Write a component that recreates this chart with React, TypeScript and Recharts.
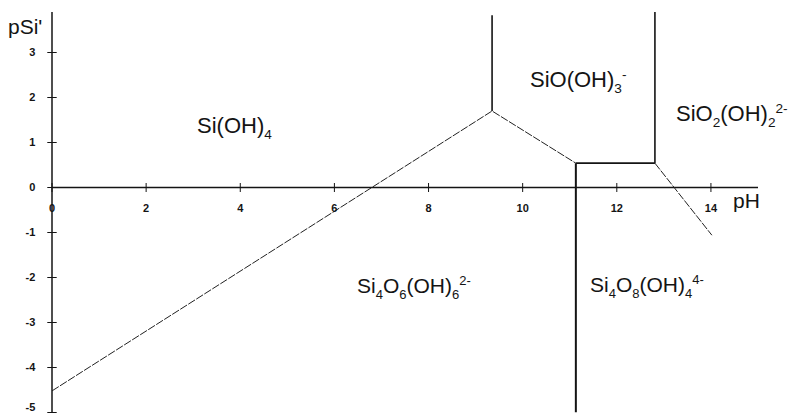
import { LineChart, Line, XAxis, YAxis, ReferenceLine } from "recharts";

const phTicks = [0, 2, 4, 6, 8, 10, 12, 14];
const psiTicks = [-5, -4, -3, -2, -1, 0, 1, 2, 3];

// predominance boundaries, as (pH, pSi') corners
const risingEdge = [
  { pH: 0, pSi: -4.52 },
  { pH: 9.35, pSi: 1.7 },
  { pH: 11.13, pSi: 0.54 },
];
const shelfEdge = [
  { pH: 11.13, pSi: 0.54 },
  { pH: 12.81, pSi: 0.54 },
];
const fallingEdge = [
  { pH: 12.81, pSi: 0.54 },
  { pH: 14.02, pSi: -1.06 },
];
const monoanionWall = [
  { pH: 9.35, pSi: 1.7 },
  { pH: 9.35, pSi: 3.83 },
];
const tetramerWall = [
  { pH: 11.13, pSi: 0.54 },
  { pH: 11.13, pSi: -5 },
];
const dianionWall = [
  { pH: 12.81, pSi: 0.54 },
  { pH: 12.81, pSi: 3.9 },
];

const INK = "#141414";
const tickFont = { fill: INK, fontSize: 11, fontWeight: 700 };

type Part = [string, "n" | "sub" | "sup"];

function Formula({ x, y, size, parts }: { x: number; y: number; size: number; parts: Part[] }) {
  let shift = 0;
  return (
    <text x={x} y={y} fontSize={size} fill={INK}>
      {parts.map(([t, kind], i) => {
        const target = kind === "sub" ? size * 0.28 : kind === "sup" ? -size * 0.36 : 0;
        const dy = target - shift;
        shift = target;
        return (
          <tspan key={i} dy={dy} fontSize={kind === "n" ? size : size * 0.62}>
            {t}
          </tspan>
        );
      })}
    </text>
  );
}

// y tick label, kept clear of the bottom edge
const yTickLabel = (t: number) => (props: any) => {
  const { x, y, height } = props.viewBox;
  return (
    <text
      x={x - 12}
      y={Math.min(y + height / 2, 407)}
      dy="0.35em"
      textAnchor="end"
      {...tickFont}
    >
      {t}
    </text>
  );
};

export default function App() {
  return (
    <div
      style={{
        position: "absolute",
        left: 0,
        top: 0,
        width: 797,
        height: 414,
        background: "#fff",
        fontFamily: "'Liberation Sans', Arial, sans-serif",
      }}
    >
      <LineChart width={797} height={414} margin={{ top: 12, right: 39, bottom: 1.5, left: 52 }}>
        <XAxis type="number" dataKey="pH" domain={[0, 15]} hide allowDataOverflow />
        <YAxis type="number" dataKey="pSi" domain={[-5, 3.9]} hide allowDataOverflow />

        {/* axes crossing at the origin */}
        <ReferenceLine y={0} stroke={INK} strokeWidth={1.5} />
        <ReferenceLine x={0} stroke={INK} strokeWidth={1.5} />

        {phTicks.map((t) => (
          <ReferenceLine
            key={`x${t}`}
            segment={[
              { x: t, y: -0.1 },
              { x: t, y: 0.1 },
            ]}
            stroke={INK}
            strokeWidth={1}
            ifOverflow="visible"
            label={{ value: t, position: "bottom", offset: 12, ...tickFont }}
          />
        ))}
        {psiTicks.map((t) => (
          <ReferenceLine
            key={`y${t}`}
            segment={[
              { x: -0.1, y: t },
              { x: 0.1, y: t },
            ]}
            stroke={INK}
            strokeWidth={1}
            ifOverflow="visible"
            label={yTickLabel(t)}
          />
        ))}

        <Line data={risingEdge} dataKey="pSi" stroke="#222" strokeWidth={1} strokeDasharray="8 1.5" dot={false} isAnimationActive={false} />
        <Line data={fallingEdge} dataKey="pSi" stroke="#222" strokeWidth={1} strokeDasharray="8 1.5" dot={false} isAnimationActive={false} />
        <Line data={shelfEdge} dataKey="pSi" stroke={INK} strokeWidth={1.8} dot={false} isAnimationActive={false} />
        <Line data={monoanionWall} dataKey="pSi" stroke={INK} strokeWidth={1.6} dot={false} isAnimationActive={false} />
        <Line data={tetramerWall} dataKey="pSi" stroke={INK} strokeWidth={2} dot={false} isAnimationActive={false} />
        <Line data={dianionWall} dataKey="pSi" stroke={INK} strokeWidth={1.6} dot={false} isAnimationActive={false} />
      </LineChart>

      {/* axis titles and species names */}
      <svg
        width={797}
        height={414}
        style={{ position: "absolute", left: 0, top: 0, pointerEvents: "none" }}
      >
        <Formula x={8} y={34} size={21} parts={[["pSi'", "n"]]} />
        <Formula x={733} y={208} size={21} parts={[["pH", "n"]]} />
        <Formula x={197} y={133} size={22} parts={[["Si(OH)", "n"], ["4", "sub"]]} />
        <Formula x={530} y={87} size={22} parts={[["SiO(OH)", "n"], ["3", "sub"], ["-", "sup"]]} />
        <Formula
          x={676}
          y={121}
          size={22}
          parts={[["SiO", "n"], ["2", "sub"], ["(OH)", "n"], ["2", "sub"], ["2-", "sup"]]}
        />
        <Formula
          x={357}
          y={293}
          size={21}
          parts={[["Si", "n"], ["4", "sub"], ["O", "n"], ["6", "sub"], ["(OH)", "n"], ["6", "sub"], ["2-", "sup"]]}
        />
        <Formula
          x={590}
          y={292}
          size={21}
          parts={[["Si", "n"], ["4", "sub"], ["O", "n"], ["8", "sub"], ["(OH)", "n"], ["4", "sub"], ["4-", "sup"]]}
        />
      </svg>
    </div>
  );
}
